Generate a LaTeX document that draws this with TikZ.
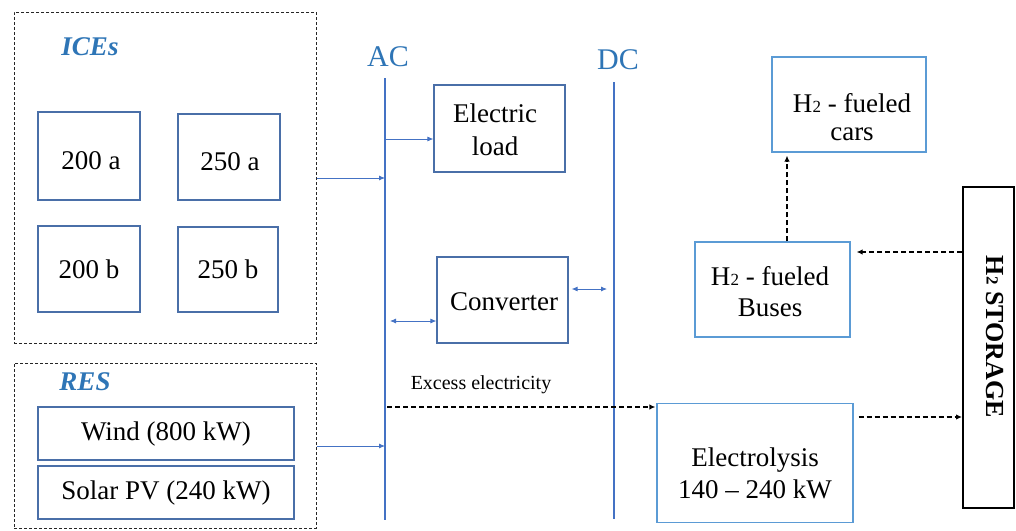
\documentclass[tikz,border=0pt]{standalone}
\usepackage{fontspec}
\setmainfont{Liberation Serif}
\usetikzlibrary{arrows.meta,calc}
\definecolor{boxblue}{HTML}{4A6FA8}
\definecolor{ltblue}{HTML}{5B9BD5}
\definecolor{busblue}{HTML}{4472C4}
\definecolor{lblue}{HTML}{2E75B6}
\newcommand{\Htwo}{H\kern0.3pt{\fontsize{17}{17}\selectfont 2}}
\begin{document}
\begin{tikzpicture}[x=1pt,y=-1pt,
  box/.style={draw=boxblue,line width=1.2pt,inner sep=0pt,align=center,font=\fontsize{27}{33}\selectfont},
  lbox/.style={box,draw=ltblue},
  container/.style={draw=black!85,line width=1pt,dash pattern=on 3pt off 2pt,inner sep=0pt},
  bus/.style={draw=busblue,line width=2.6pt},
  conn/.style={draw=busblue,line width=0.8pt,-{Latex[length=6pt,width=5pt]}},
  dual/.style={draw=busblue,line width=0.8pt,{Latex[length=6pt,width=5pt]}-{Latex[length=6pt,width=5pt]}},
  h2arrow/.style={draw=black,line width=1.2pt,dash pattern=on 5pt off 3pt,-{Latex[length=6pt,width=5.5pt]}},
  grouplabel/.style={font=\bfseries\itshape\fontsize{27}{27}\selectfont,text=lblue},
  buslabel/.style={font=\fontsize{30}{30}\selectfont,text=lblue},
  txt/.style={align=center,font=\fontsize{27}{32}\selectfont}
]
\useasboundingbox (0,0) rectangle (1016,530);

% containers
\node[container,minimum width=302pt,minimum height=331pt] (ices) at (165,177.5) {};
\node[container,minimum width=302pt,minimum height=165pt] (res) at (165,445.5) {};
\node[grouplabel] (iceslab) at (90,47) {ICEs};
\node[grouplabel] (reslab) at (85,382) {RES};

% ICE units
\node[box,minimum width=102pt,minimum height=88pt] (a200) at (89,156) {};
\node[txt] (a200txt) at (91,161) {200 a};
\node[box,minimum width=102pt,minimum height=86pt] (a250) at (229,157) {};
\node[txt] (a250txt) at (230,162) {250 a};
\node[box,minimum width=102pt,minimum height=86pt] (b200) at (89,269) {200 b};
\node[box,minimum width=100pt,minimum height=85pt] (b250) at (228,269.5) {250 b};

% RES units
\node[box,minimum width=256pt,minimum height=53pt] (wind) at (166,433.5) {Wind (800 kW)};
\node[box,minimum width=256pt,minimum height=53pt] (solar) at (166,492.5) {Solar PV (240 kW)};

% buses
\coordinate (acTop) at (385,78);
\coordinate (acBot) at (385,520);
\coordinate (dcTop) at (614,82);
\coordinate (dcBot) at (614,519);
\draw[bus] (acTop) -- (acBot);
\draw[bus] (dcTop) -- (dcBot);
\node[buslabel] (aclab) at (388,57) {AC};
\node[buslabel] (dclab) at (618,60) {DC};

% middle boxes
\node[box,minimum width=131pt,minimum height=87pt] (load) at (499.5,128.5) {};
\node[txt,font=\fontsize{27}{33}\selectfont] (loadtxt) at (495,130) {Electric\\load};
\node[box,minimum width=131pt,minimum height=86pt] (conv) at (502.5,300) {};
\node[txt] (convtxt) at (504,302) {Converter};

% right side
\node[lbox,minimum width=196pt,minimum height=119pt] (elec) at (755,463) {};
\node[txt] (electxt) at (755,473) {Electrolysis\\140 -- 240 kW};
\node[lbox,minimum width=155pt,minimum height=95pt] (buses) at (772.5,289.5) {};
\node[txt,font=\fontsize{27}{31}\selectfont] (busestxt) at (770,292) {\Htwo\ - fueled\\Buses};
\node[lbox,minimum width=154pt,minimum height=95pt] (cars) at (849,104.5) {};
\node[txt,font=\fontsize{27}{28}\selectfont] (carstxt) at (852,117) {\Htwo\ - fueled\\cars};
\node[draw=black,line width=1.4pt,minimum width=51pt,minimum height=321pt,inner sep=0pt] (storage) at (988.5,347.5) {};
\node[rotate=-90,font=\bfseries\fontsize{26}{26}\selectfont] (stlab) at (995,337) {\Htwo\ STORAGE};

% connectors
\coordinate (acICE) at (385,178);
\coordinate (acLoad) at (385,139);
\coordinate (acConv) at (390,321);
\coordinate (dcConv) at (607,289);
\coordinate (acRES) at (385,446);
\coordinate (acEx) at (387,407);
\coordinate (stIn) at (962,417);
\coordinate (stOut) at (962,252);

\draw[conn] (ices.east |- acICE) -- (acICE);
\draw[conn] (acLoad) -- (load.west |- acLoad);
\draw[dual] (acConv) -- (conv.west |- acConv);
\draw[dual] ([xshift=3pt]conv.east |- dcConv) -- (dcConv);
\draw[conn] (res.east |- acRES) -- (acRES);
\draw[h2arrow] (acEx) -- ([xshift=-1pt]elec.west |- acEx);
\node[font=\fontsize{20}{20}\selectfont] (exlab) at (481,385) {Excess electricity};
\draw[h2arrow] ([xshift=5pt]elec.east |- stIn) -- (stIn);
\draw[h2arrow] (stOut) -- ([xshift=6pt]buses.east |- stOut);
\draw[h2arrow] ([xshift=14.5pt]buses.north) -- ([xshift=14.5pt,yshift=-3pt]buses.north |- cars.south);
\end{tikzpicture}
\end{document}
